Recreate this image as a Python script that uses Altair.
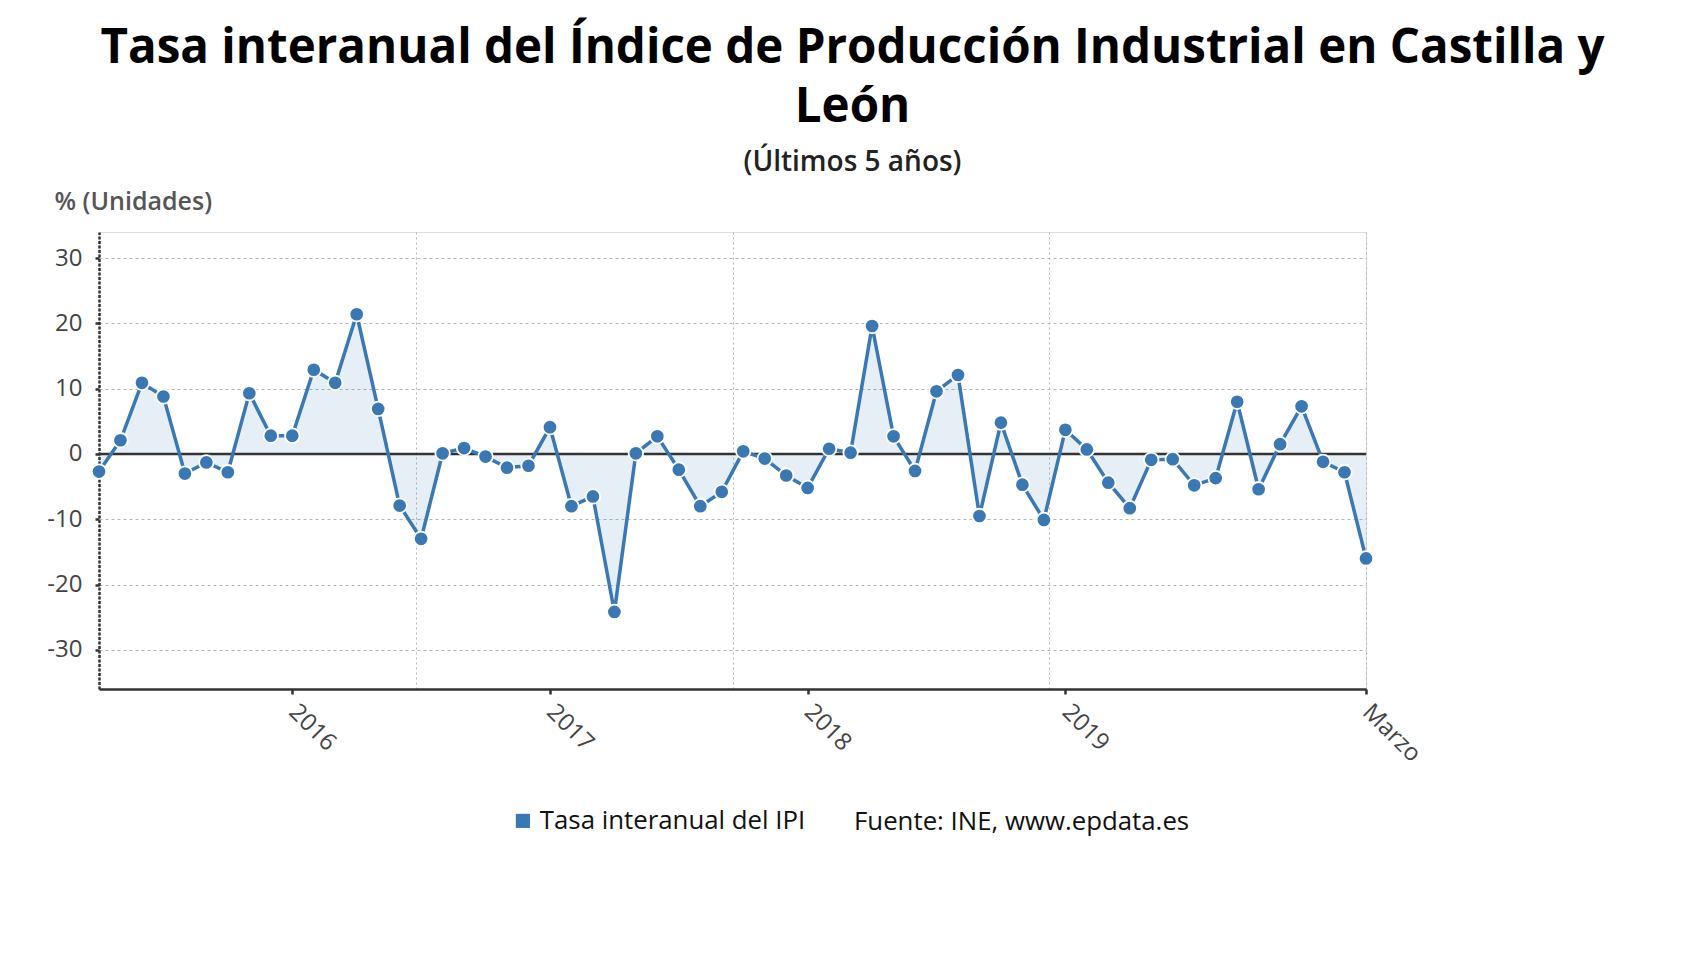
import altair as alt
import pandas as pd

# Monthly year-on-year rate of the Industrial Production Index (Castilla y León)
meses = [
    "2015-04", "2015-05", "2015-06", "2015-07", "2015-08", "2015-09",
    "2015-10", "2015-11", "2015-12", "2016-01", "2016-02", "2016-03",
    "2016-04", "2016-05", "2016-06", "2016-07", "2016-08", "2016-09",
    "2016-10", "2016-11", "2016-12", "2017-01", "2017-02", "2017-03",
    "2017-04", "2017-05", "2017-06", "2017-07", "2017-08", "2017-09",
    "2017-10", "2017-11", "2017-12", "2018-01", "2018-02", "2018-03",
    "2018-04", "2018-05", "2018-06", "2018-07", "2018-08", "2018-09",
    "2018-10", "2018-11", "2018-12", "2019-01", "2019-02", "2019-03",
    "2019-04", "2019-05", "2019-06", "2019-07", "2019-08", "2019-09",
    "2019-10", "2019-11", "2019-12", "2020-01", "2020-02", "2020-03",
]
tasa = [
    -2.7, 2.1, 10.9, 8.8, -3.0, -1.3, -2.8, 9.3, 2.8, 2.8,
    12.9, 10.9, 21.4, 6.9, -7.9, -13.0, 0.1, 0.9, -0.4, -2.1,
    -1.8, 4.1, -8.0, -6.5, -24.2, 0.1, 2.7, -2.4, -8.0, -5.8,
    0.4, -0.7, -3.3, -5.2, 0.8, 0.2, 19.6, 2.7, -2.6, 9.6,
    12.1, -9.5, 4.8, -4.7, -10.1, 3.7, 0.7, -4.4, -8.3, -0.9,
    -0.8, -4.8, -3.7, 8.0, -5.4, 1.5, 7.3, -1.2, -2.8, -16.0,
]
serie = "Tasa interanual del IPI"
fuente = "Fuente: INE, www.epdata.es"
ultimo_rotulo = "Marzo"
y_ticks = [-30, -20, -10, 0, 10, 20, 30]

AZUL = "#3a78b3"
FONT = "Open Sans"

df = pd.DataFrame({"mes": meses, "valor": tasa})
df["n"] = range(len(df))
df["serie"] = serie

ultimo = len(meses) - 1
# labelled ticks: every January (year) not too close to the end, plus the last month
etiquetas = {
    i: m[:4] for i, m in enumerate(meses) if m.endswith("-01") and i <= ultimo - 3
}
etiquetas[ultimo] = ultimo_rotulo
# vertical grid splits the time range in quarters
rejilla = [ultimo * k / 4 for k in (1, 2, 3, 4)]

valores_x = sorted(set(list(etiquetas.keys()) + rejilla))
label_expr = " : ".join(
    f"datum.value == {k} ? '{v}'" for k, v in etiquetas.items()
) + " : ''"
lista_rejilla = "[" + ",".join(str(v) for v in rejilla) + "]"
lista_etiq = "[" + ",".join(str(k) for k in etiquetas) + "]"

x_enc = alt.X(
    "n:Q",
    scale=alt.Scale(domain=[0, ultimo], nice=False, zero=False),
    axis=alt.Axis(
        values=valores_x,
        labelExpr=label_expr,
        title=None,
        labelAngle=45,
        labelAlign="left",
        labelBaseline="middle",
        labelPadding=14,
        labelFontSize=24,
        labelColor="#444",
        labelFont=FONT,
        labelOverlap=False,
        tickSize=5,
        tickWidth=2.5,
        tickColor="#333",
        tickOpacity={"condition": {"test": f"indexof({lista_etiq}, datum.value) >= 0", "value": 1}, "value": 0},
        grid=True,
        gridColor="#b5b5b5",
        gridDash=[2, 3],
        gridWidth=1,
        gridOpacity={"condition": {"test": f"indexof({lista_rejilla}, datum.value) >= 0", "value": 1}, "value": 0},
        domainColor="#333",
        domainWidth=2.5,
    ),
)

y_enc = alt.Y(
    "valor:Q",
    scale=alt.Scale(domain=[-36, 34], nice=False, zero=False),
    axis=alt.Axis(
        values=y_ticks,
        labelExpr="datum.value + ''",
        title="% (Unidades)",
        titleAngle=0,
        titleAlign="left",
        titleBaseline="alphabetic",
        titleX=-45,
        titleY=-23,
        titleFont=FONT,
        titleFontSize=25,
        titleFontWeight=600,
        titleColor="#555",
        labelFont=FONT,
        labelFontSize=24,
        labelFontWeight=500,
        labelColor="#444",
        labelPadding=13,
        tickSize=4,
        tickWidth=2.5,
        tickColor="#333",
        grid=True,
        gridColor="#b5b5b5",
        gridDash=[3, 3],
        gridWidth=1,
        domainColor="#333",
        domainWidth=2.5,
        domainDash=[3, 1.5],
    ),
)

base = alt.Chart(df)

area = base.mark_area(color=AZUL, opacity=0.12).encode(
    x=x_enc, y=y_enc, y2=alt.datum(0)
)

cero = alt.Chart(pd.DataFrame({"v": [0]})).mark_rule(
    color="#333", strokeWidth=2.5
).encode(y=alt.Y("v:Q"))

linea = base.mark_line(color=AZUL, strokeWidth=3.5).encode(x="n:Q", y="valor:Q")

puntos = base.mark_point(
    filled=True, size=210, opacity=1, stroke="white", strokeWidth=1.8
).encode(
    x="n:Q",
    y="valor:Q",
    fill=alt.Fill(
        "serie:N",
        scale=alt.Scale(range=[AZUL]),
        legend=alt.Legend(
            title=None,
            orient="none",
            legendX=411,
            legendY=576,
            symbolType="square",
            symbolSize=200,
            symbolStrokeWidth=0,
            labelFont=FONT,
            labelFontSize=25.8,
            labelColor="#111",
            labelLimit=400,
        ),
    ),
)

nota = alt.Chart(pd.DataFrame({"t": [fuente]})).mark_text(
    align="left", baseline="middle", font=FONT, fontSize=25.8, color="#111"
).encode(text="t:N", x=alt.value(755), y=alt.value(590))

chart = (
    alt.layer(area, cero, linea, puntos, nota)
    .properties(
        width=1267,
        height=457,
        autosize=alt.AutoSizeParams(type="none"),
        padding={"left": 99, "top": 232, "right": 340, "bottom": 271},
        title=alt.TitleParams(
            text=["Tasa interanual del Índice de Producción Industrial en Castilla y", "León"],
            subtitle="(Últimos 5 años)",
            anchor="middle",
            frame="group",
            dx=120,
            font=FONT,
            fontSize=47.5,
            fontWeight="bold",
            color="#000",
            lineHeight=59,
            subtitleFont=FONT,
            subtitleFontSize=28,
            subtitleFontWeight=600,
            subtitleColor="#222",
            subtitlePadding=17,
            offset=12.5,
        ),
    )
    .configure_view(stroke=None)
    .configure(background="white")
)

chart.save("out.html", embed_options={"renderer": "svg", "actions": False})
